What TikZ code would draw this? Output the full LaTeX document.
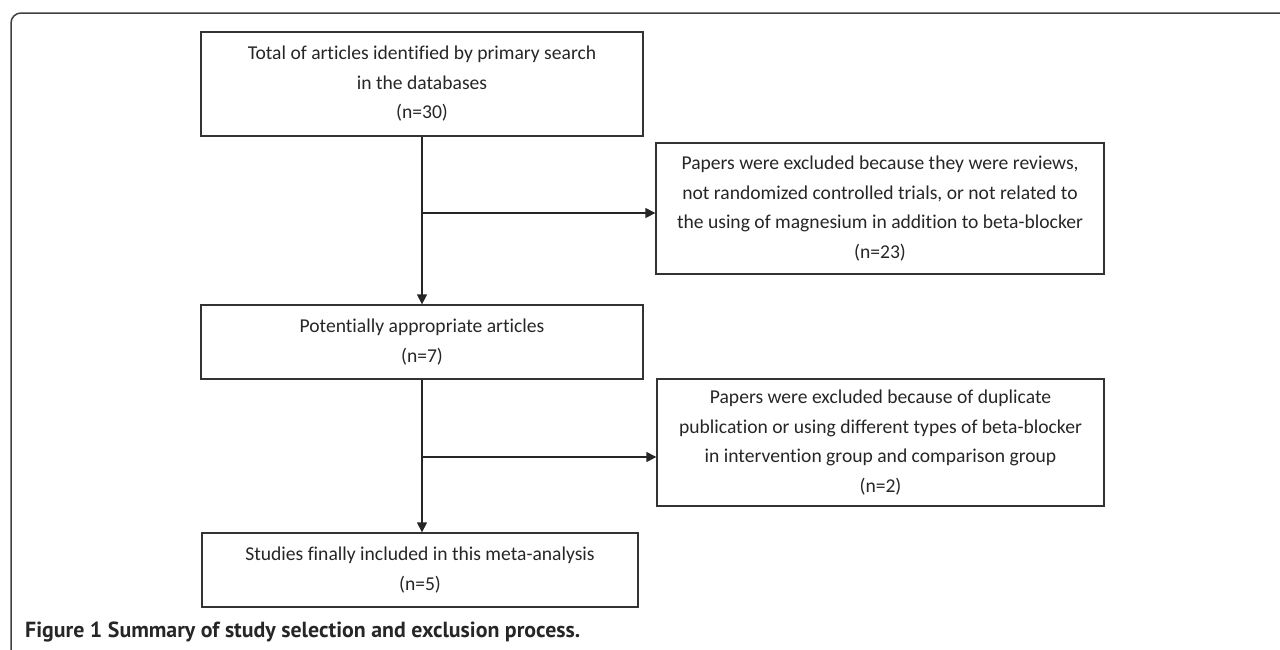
\documentclass[tikz,border=0pt]{standalone}
\usepackage{fontspec}
\setmainfont{Carlito}[Ligatures={NoCommon}]
\newfontfamily\capfont{PT Sans}
\usetikzlibrary{arrows.meta}
\begin{document}
\begin{tikzpicture}[x=1pt,y=-1pt,
  box/.style={draw=black!80, line width=1.3pt, align=center, inner sep=0pt,
    font=\fontsize{19.6pt}{29.5pt}\selectfont, text=black!85},
  conn/.style={draw=black!85, line width=1.3pt},
  arr/.style={conn, -{Triangle[length=10pt,width=10pt]}},
  frame/.style={draw=black!75, line width=1.5pt, rounded corners=10pt}]
\useasboundingbox (0,0) rectangle (1280,649);
% outer frame
\coordinate (fa) at (1290,13);
\coordinate (fc) at (11,13);
\coordinate (fb) at (11,660);
\draw[frame] (fa) -- (fc) -- (fb);
% boxes
\node[box, minimum width=442pt, minimum height=104pt] (b1) at (422,84)
  {Total of articles identified by primary search\\in the databases\\(n=30)};
\node[box, minimum width=448pt, minimum height=131pt] (b3) at (880,208.5)
  {Papers were excluded because they were reviews,\\not randomized controlled trials, or not related to\\the using of magnesium in addition to beta-blocker\\(n=23)};
\node[box, minimum width=442pt, minimum height=74pt] (b2) at (422,342)
  {Potentially appropriate articles\\(n=7)};
\node[box, minimum width=447pt, minimum height=127pt] (b5) at (880.5,442.5)
  {Papers were excluded because of duplicate\\publication or using different types of beta-blocker\\in intervention group and comparison group\\(n=2)};
\node[box, minimum width=436pt, minimum height=74pt] (b4) at (420,570)
  {Studies finally included in this meta-analysis\\(n=5)};
% connectors
\coordinate (j1) at (422,213);
\coordinate (j2) at (422,457);
\draw[arr] (b1.south) -- (b2.north);
\draw[arr] (j1) -- (j1 -| b3.west);
\draw[arr] (b2.south) -- (b2.south |- b4.north);
\draw[arr] (j2) -- (j2 -| b5.west);
% caption
\node[anchor=base west, inner sep=0pt, text=black!85] (cap) at (25,637)
  {\resizebox{555pt}{!}{\capfont\bfseries Figure 1 Summary of study selection and exclusion process.}};
\end{tikzpicture}
\end{document}
